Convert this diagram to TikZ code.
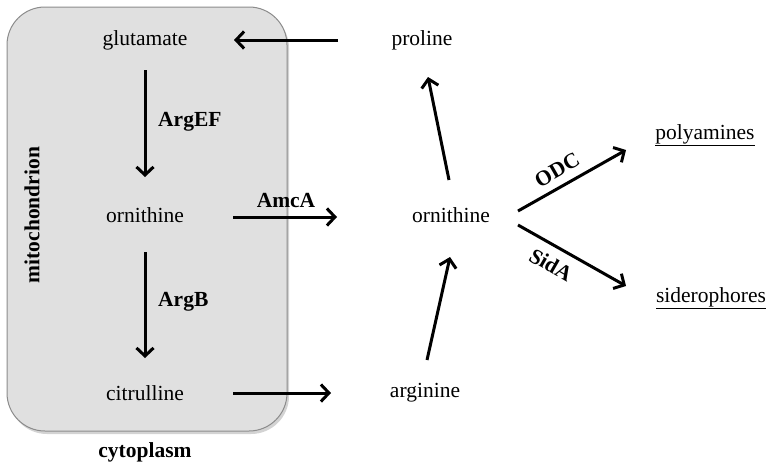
\documentclass[tikz,border=0pt]{standalone}
\usepackage{fontspec}
\setmainfont{Liberation Serif}
\usetikzlibrary{arrows.meta,shadows}
\begin{document}
\begin{tikzpicture}[x=1pt,y=-1pt,
  lbl/.style={font=\fontsize{21.5}{25}\selectfont, inner sep=1pt},
  enz/.style={font=\fontsize{21.5}{25}\selectfont\bfseries, inner sep=1pt},
  arr/.style={line width=3pt,-{Straight Barb[length=8pt,width=17pt,line width=3pt]}},
  box/.style={draw=black!45, line width=1pt, fill=black!12, rounded corners=38pt,
    drop shadow={shadow xshift=2pt,shadow yshift=-3pt,opacity=0.35}}]
\useasboundingbox (0,0) rectangle (773,469);
\path[box] (7,7) rectangle (287,431);
\node[lbl] (glu) at (145,40) {glutamate};
\node[lbl] (pro) at (422,40) {proline};
\node[lbl] (orn1) at (145,215) {ornithine};
\node[lbl] (cit) at (145,393) {citrulline};
\node[lbl] (arg) at (425,393) {arginine};
\node[lbl] (orn2) at (451,215) {ornithine};
\node[lbl] (poly) at (705,135) {\underline{polyamines}};
\node[lbl] (sid) at (711,298) {\underline{siderophores}};
\node[enz] (cyto) at (145,452) {cytoplasm};
\node[enz, rotate=90] (mito) at (32,215) {mitochondrion};
\coordinate (a1) at (338,40); \coordinate (a2) at (234,40);
\draw[arr] (a1) -- (a2);
\coordinate (b1) at (145,70); \coordinate (b2) at (145,177);
\draw[arr] (b1) -- (b2);
\node[enz, anchor=west] (argef) at (157,122) {ArgEF};
\coordinate (c1) at (145,252); \coordinate (c2) at (145,358);
\draw[arr] (c1) -- (c2);
\node[enz, anchor=west] (argb) at (157,302) {ArgB};
\coordinate (d1) at (233,217); \coordinate (d2) at (337,217);
\draw[arr] (d1) -- (d2);
\node[enz] (amca) at (286,200) {AmcA};
\coordinate (e1) at (233,393); \coordinate (e2) at (331,393);
\draw[arr] (e1) -- (e2);
\coordinate (f1) at (427,360); \coordinate (f2) at (450,257);
\draw[arr] (f1) -- (f2);
\coordinate (g1) at (449,180); \coordinate (g2) at (428,77);
\draw[arr] (g1) -- (g2);
\coordinate (h1) at (518,211); \coordinate (h2) at (626,150);
\draw[arr] (h1) -- (h2);
\node[enz, rotate=30] (odc) at (557,170) {ODC};
\coordinate (i1) at (518,225); \coordinate (i2) at (626,286);
\draw[arr] (i1) -- (i2);
\node[enz, rotate=-30] (sida) at (551,265) {SidA};
\end{tikzpicture}
\end{document}
